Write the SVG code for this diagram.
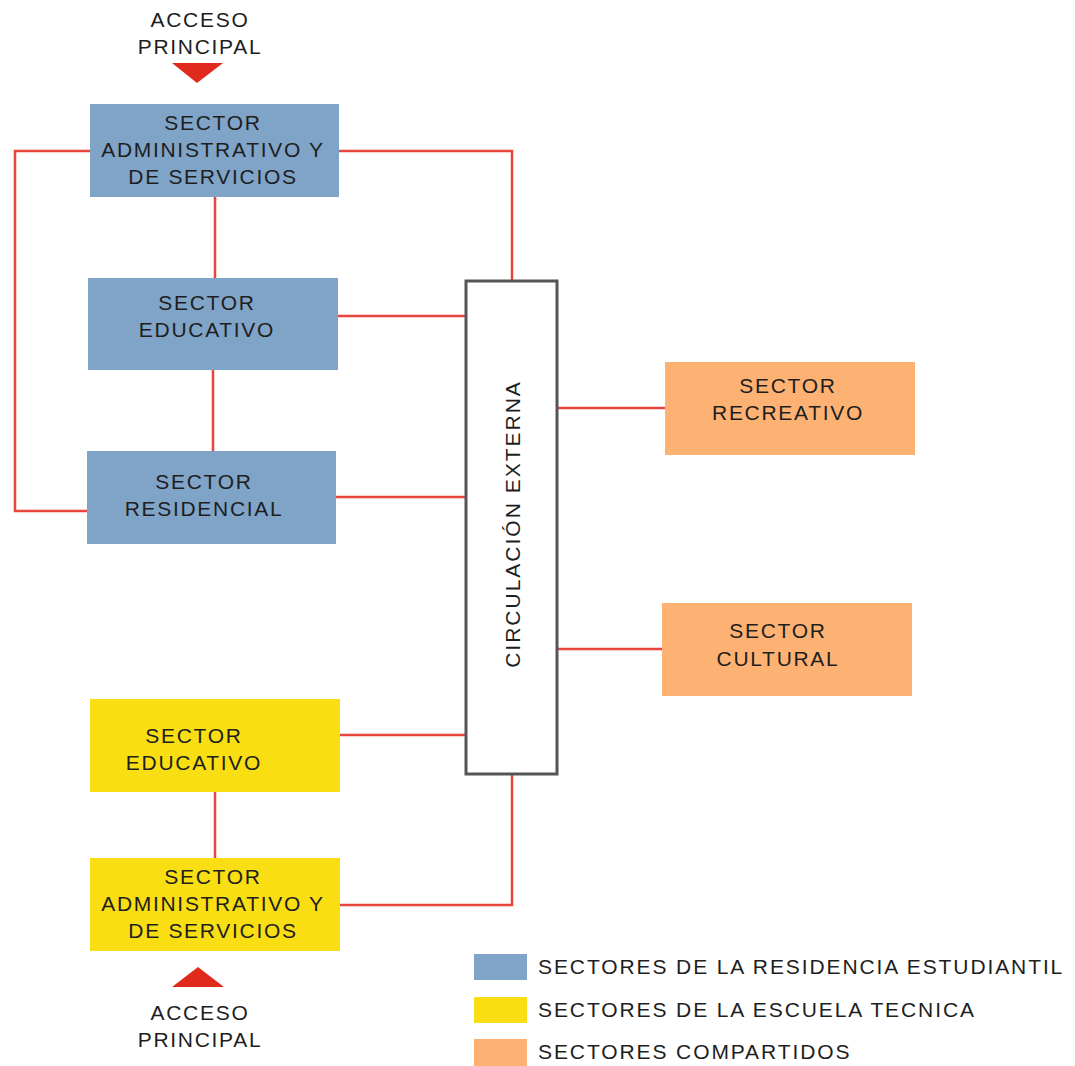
<svg xmlns="http://www.w3.org/2000/svg" width="1075" height="1066" viewBox="0 0 1075 1066">
<style>
text{font-family:"Liberation Sans",Arial,sans-serif;font-size:21px;fill:#1e1e1e;letter-spacing:1.7px}
.c{text-anchor:middle}
.lg{letter-spacing:1.9px}
.blue{fill:#7fa4c8}
.yellow{fill:#f9de13}
.orange{fill:#fdb273}
.tri{fill:#e02a1c}
.ln{fill:none;stroke:#e8463c;stroke-width:2.5}
</style>
<rect width="1075" height="1066" fill="#fff"/>
<g id="connectors">
<polyline class="ln" points="90,151 15,151 15,511 87,511"/>
<polyline class="ln" points="339,151 512,151 512,281"/>
<line class="ln" x1="215" y1="197" x2="215" y2="278"/>
<line class="ln" x1="213" y1="370" x2="213" y2="451"/>
<line class="ln" x1="338" y1="316" x2="466" y2="316"/>
<line class="ln" x1="336" y1="497" x2="466" y2="497"/>
<line class="ln" x1="557" y1="408" x2="665" y2="408"/>
<line class="ln" x1="557" y1="649" x2="662" y2="649"/>
<line class="ln" x1="340" y1="735" x2="466" y2="735"/>
<polyline class="ln" points="340,905 512,905 512,774"/>
<line class="ln" x1="215" y1="792" x2="215" y2="858"/>
</g>
<g id="acceso-top">
<text class="c" x="200" y="27">ACCESO</text>
<text class="c" x="200" y="54">PRINCIPAL</text>
<polygon class="tri" points="172,63 223,63 197,83"/>
</g>
<g id="admin-res">
<rect class="blue" x="90" y="104" width="249" height="93"/>
<text class="c" x="213" y="130">SECTOR</text>
<text class="c" x="213" y="157">ADMINISTRATIVO Y</text>
<text class="c" x="213" y="184">DE SERVICIOS</text>
</g>
<g id="educativo-res">
<rect class="blue" x="88" y="278" width="250" height="92"/>
<text class="c" x="207" y="310">SECTOR</text>
<text class="c" x="207" y="337">EDUCATIVO</text>
</g>
<g id="residencial">
<rect class="blue" x="87" y="451" width="249" height="93"/>
<text class="c" x="204" y="489">SECTOR</text>
<text class="c" x="204" y="516">RESIDENCIAL</text>
</g>
<g id="circulacion">
<rect x="466" y="281" width="91" height="493" fill="#fff" stroke="#555" stroke-width="3"/>
<text class="c" transform="translate(512,524) rotate(-90)" x="0" y="8" style="letter-spacing:2px">CIRCULACIÓN EXTERNA</text>
</g>
<g id="recreativo">
<rect class="orange" x="665" y="362" width="250" height="93"/>
<text class="c" x="788" y="393">SECTOR</text>
<text class="c" x="788" y="420">RECREATIVO</text>
</g>
<g id="cultural">
<rect class="orange" x="662" y="603" width="250" height="93"/>
<text class="c" x="778" y="638">SECTOR</text>
<text class="c" x="778" y="666">CULTURAL</text>
</g>
<g id="educativo-esc">
<rect class="yellow" x="90" y="699" width="250" height="93"/>
<text class="c" x="194" y="743">SECTOR</text>
<text class="c" x="194" y="770">EDUCATIVO</text>
</g>
<g id="admin-esc">
<rect class="yellow" x="90" y="858" width="250" height="93"/>
<text class="c" x="213" y="884">SECTOR</text>
<text class="c" x="213" y="911">ADMINISTRATIVO Y</text>
<text class="c" x="213" y="938">DE SERVICIOS</text>
</g>
<g id="acceso-bottom">
<polygon class="tri" points="172,987 224,987 198,967"/>
<text class="c" x="200" y="1020">ACCESO</text>
<text class="c" x="200" y="1047">PRINCIPAL</text>
</g>
<g id="legend">
<rect class="blue" x="474" y="954" width="53" height="26"/>
<text class="lg" x="538" y="974">SECTORES DE LA RESIDENCIA ESTUDIANTIL</text>
<rect class="yellow" x="474" y="997" width="53" height="26"/>
<text class="lg" x="538" y="1017">SECTORES DE LA ESCUELA TECNICA</text>
<rect class="orange" x="474" y="1039" width="53" height="27"/>
<text class="lg" x="538" y="1059">SECTORES COMPARTIDOS</text>
</g>
</svg>
